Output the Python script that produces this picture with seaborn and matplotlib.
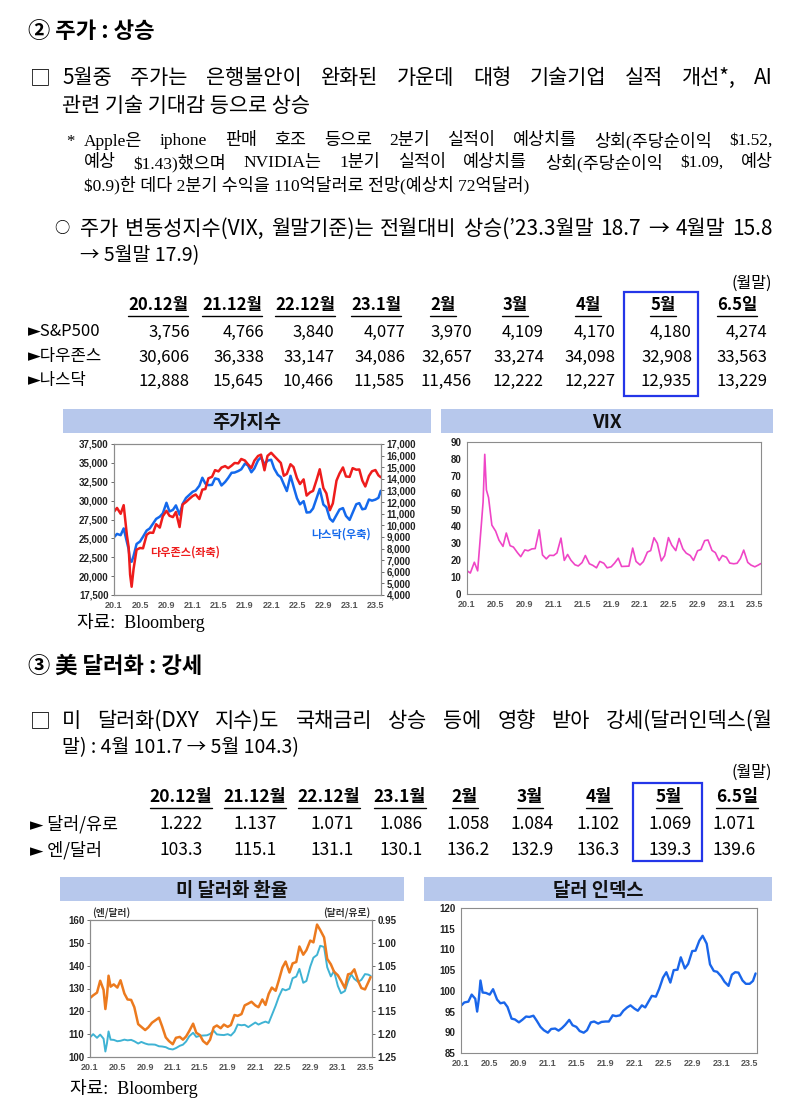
import matplotlib
matplotlib.use("Agg")
import matplotlib.pyplot as plt
import seaborn as sns
import pandas as pd
from matplotlib.patches import Rectangle

# ---------------- DATA ----------------
DATES = [
    "2020-01-01", "2020-01-15", "2020-02-01", "2020-02-15",
    "2020-03-01", "2020-03-09", "2020-03-16", "2020-03-23",
    "2020-04-01", "2020-04-15", "2020-05-01", "2020-05-15", "2020-06-01", "2020-06-15",
    "2020-07-01", "2020-07-15", "2020-08-01", "2020-08-15", "2020-09-01", "2020-09-15",
    "2020-10-01", "2020-10-15", "2020-11-01", "2020-11-15", "2020-12-01", "2020-12-15",
    "2021-01-01", "2021-01-15", "2021-02-01", "2021-02-15", "2021-03-01", "2021-03-15",
    "2021-04-01", "2021-04-15", "2021-05-01", "2021-05-15", "2021-06-01", "2021-06-15",
    "2021-07-01", "2021-07-15", "2021-08-01", "2021-08-15", "2021-09-01", "2021-09-15",
    "2021-10-01", "2021-10-15", "2021-11-01", "2021-11-15", "2021-12-01", "2021-12-15",
    "2022-01-01", "2022-01-15", "2022-02-01", "2022-02-15", "2022-03-01", "2022-03-15",
    "2022-04-01", "2022-04-15", "2022-05-01", "2022-05-15", "2022-06-01", "2022-06-15",
    "2022-07-01", "2022-07-15", "2022-08-01", "2022-08-15", "2022-09-01", "2022-09-15",
    "2022-10-01", "2022-10-15", "2022-11-01", "2022-11-15", "2022-12-01", "2022-12-15",
    "2023-01-01", "2023-01-15", "2023-02-01", "2023-02-15", "2023-03-01", "2023-03-15",
    "2023-04-01", "2023-04-15", "2023-05-01", "2023-05-15", "2023-05-26",
]

DOW = [
    28538, 29030, 28256, 29398, 25409, 23851, 20189, 18592,
    20943, 23504, 23724, 23685, 25475, 25763, 25734, 26870, 26428, 27931,
    28645, 27995, 27817, 28494, 26501, 29479, 29823, 30199,
    30606, 30814, 30212, 31458, 31535, 32953, 33153, 34036, 33874, 34382, 34575, 34299,
    34633, 34987, 34935, 35515, 35312, 34814, 34326, 35295, 35913, 36087, 34022, 35927,
    36338, 35912, 35405, 34989, 33294, 33544, 34818, 34451, 32977, 32197, 32813, 30668,
    31097, 31288, 32798, 34152, 31656, 30962, 28726, 29635, 32653, 33593, 34395, 33202,
    33147, 34303, 34092, 34128, 32661, 31875, 33274, 33886, 34051, 33348, 33093,
]

NASDAQ = [
    8973, 9259, 9151, 9732, 8567, 7950, 6905, 6861,
    7360, 8393, 8605, 9015, 9552, 9727, 10155, 10550, 10745, 11019,
    11940, 11190, 11326, 11714, 10912, 11830, 12355, 12596,
    12888, 12999, 13403, 14095, 13588, 13460, 13480, 14038, 13962, 13430, 13736, 14073,
    14522, 14543, 14673, 14822, 15310, 15161, 14567, 14897, 15595, 15854, 15254, 15566,
    15645, 14893, 14346, 14139, 13532, 12949, 14262, 13351, 12335, 11805, 12081, 11100,
    11128, 11452, 12369, 13128, 11785, 11552, 10575, 10321, 10890, 11358, 11482, 10810,
    10466, 11079, 11816, 11910, 11379, 11434, 12222, 12123, 12213, 12365, 12975,
]

VIX = [
    13.8, 12.4, 18.8, 13.7, 40.1, 54.5, 82.7, 61.6,
    57.1, 40.8, 37.2, 31.9, 28.2, 36.1, 28.6, 27.8, 24.5, 22.1,
    26.1, 25.6, 26.7, 26.9, 38.0, 23.1, 20.8, 22.9,
    22.8, 24.3, 33.1, 19.9, 23.4, 20.0, 17.3, 16.6, 18.6, 22.8, 17.9, 17.0,
    15.5, 19.3, 18.2, 15.5, 16.1, 18.2, 21.2, 16.3, 16.4, 16.5, 27.2, 19.3,
    17.2, 19.2, 24.8, 25.7, 33.3, 30.0, 19.6, 22.7, 33.4, 28.9, 25.7, 32.9,
    26.7, 24.2, 22.8, 19.9, 25.6, 26.3, 31.6, 32.0, 25.8, 24.5, 19.8, 22.8,
    21.7, 18.3, 17.9, 18.2, 21.0, 26.0, 18.7, 17.1, 16.1, 17.1, 18.0,
]

JPY = [
    108.6, 110.0, 108.4, 109.8, 108.0, 102.4, 106.0, 111.2,
    107.6, 107.5, 106.9, 107.1, 107.6, 107.3, 107.5, 106.9, 105.9, 106.6,
    105.9, 105.5, 105.5, 105.4, 104.7, 104.6, 104.3, 103.6,
    103.3, 103.9, 104.9, 105.4, 106.8, 109.1, 110.6, 108.8, 109.3, 109.4, 109.5, 110.1,
    111.5, 109.9, 109.7, 109.6, 110.0, 109.4, 111.1, 114.2, 113.9, 114.1, 113.1, 114.0,
    115.1, 114.2, 115.0, 115.5, 114.9, 118.3, 122.5, 126.4, 129.8, 129.2, 129.9, 134.5,
    135.2, 138.6, 132.5, 133.3, 139.6, 143.5, 144.7, 148.7, 148.2, 139.3, 135.3, 137.7,
    131.1, 127.9, 128.9, 133.1, 136.2, 134.2, 132.9, 133.8, 136.3, 136.1, 135.5,
]

EUR = [
    1.121, 1.115, 1.109, 1.083, 1.103, 1.145, 1.117, 1.072,
    1.096, 1.091, 1.098, 1.082, 1.111, 1.124, 1.125, 1.141, 1.178, 1.184,
    1.191, 1.185, 1.175, 1.170, 1.164, 1.183, 1.207, 1.215,
    1.222, 1.208, 1.206, 1.212, 1.205, 1.193, 1.177, 1.197, 1.202, 1.215, 1.222, 1.212,
    1.185, 1.181, 1.187, 1.179, 1.184, 1.180, 1.158, 1.160, 1.156, 1.137, 1.133, 1.129,
    1.137, 1.141, 1.124, 1.136, 1.112, 1.098, 1.105, 1.082, 1.054, 1.041, 1.065, 1.045,
    1.042, 1.008, 1.026, 1.016, 0.995, 0.999, 0.960, 0.972, 0.988, 1.035, 1.047, 1.063,
    1.071, 1.083, 1.099, 1.069, 1.067, 1.058, 1.084, 1.099, 1.102, 1.087, 1.075,
]

DXY = [
    96.4, 97.2, 97.4, 99.1, 98.1, 95.0, 98.0, 102.5,
    99.6, 99.5, 99.1, 100.4, 97.9, 97.0, 97.2, 96.1, 93.3, 93.1,
    92.4, 93.0, 93.8, 93.7, 94.0, 92.8, 91.3, 90.5,
    89.9, 90.8, 90.9, 90.4, 91.0, 91.8, 93.0, 91.7, 91.3, 90.3, 89.9, 90.5,
    92.4, 92.6, 92.1, 92.5, 92.6, 92.6, 94.1, 93.9, 94.1, 95.2, 96.0, 96.5,
    95.7, 95.2, 96.5, 96.0, 97.4, 98.8, 98.6, 100.5, 103.2, 104.5, 102.0, 105.0,
    105.1, 108.1, 105.4, 106.5, 109.6, 109.7, 112.1, 113.3, 111.4, 106.4, 104.8, 104.6,
    103.5, 102.2, 101.2, 103.9, 104.5, 104.4, 102.5, 101.7, 101.7, 102.4, 104.2,
]

X_TICK_LABELS = ["20.1", "20.5", "20.9", "21.1", "21.5", "21.9",
                 "22.1", "22.5", "22.9", "23.1", "23.5"]

TABLE1_HEADS = ["20.12월", "21.12월", "22.12월", "23.1월", "2월", "3월", "4월", "5월", "6.5일"]
TABLE1_LABELS = ["►S&P500", "►다우존스", "►나스닥"]
SP500_ROW = [3756, 4766, 3840, 4077, 3970, 4109, 4170, 4180, 4274]
DOW_ROW = [30606, 36338, 33147, 34086, 32657, 33274, 34098, 32908, 33563]
NASDAQ_ROW = [12888, 15645, 10466, 11585, 11456, 12222, 12227, 12935, 13229]

TABLE2_HEADS = ["20.12월", "21.12월", "22.12월", "23.1월", "2월", "3월", "4월", "5월", "6.5일"]
TABLE2_LABELS = ["► 달러/유로", "► 엔/달러"]
USDEUR_ROW = [1.222, 1.137, 1.071, 1.086, 1.058, 1.084, 1.102, 1.069, 1.071]
JPYUSD_ROW = [103.3, 115.1, 131.1, 130.1, 136.2, 132.9, 136.3, 139.3, 139.6]

# ---------------- SETUP ----------------
sns.set_style("white")
KR = ['Noto Sans CJK KR', 'DejaVu Sans']
SERIF = ['Liberation Serif', 'Noto Sans CJK KR', 'DejaVu Sans']
TICKF = ['Liberation Sans', 'Noto Sans CJK KR', 'DejaVu Sans']
plt.rcParams['font.family'] = KR
plt.rcParams['axes.unicode_minus'] = False

W, H = 800, 1118
fig = plt.figure(figsize=(W / 100, H / 100), dpi=100)
fig.patch.set_facecolor('white')
bg = fig.add_axes([0, 0, 1, 1], zorder=0)
bg.set_xlim(0, W)
bg.set_ylim(H, 0)
bg.axis('off')
renderer = fig.canvas.get_renderer()

BODY = 15


def txt(x, y, s, size=BODY, ha='left', weight='normal', color='black', family=KR, **kw):
    return bg.text(x, y, s, fontsize=size, ha=ha, va='center', fontweight=weight,
                   color=color, family=family, **kw)


def width(t):
    return t.get_window_extent(renderer).width


def justify(y, x0, x1, s, size=BODY, family=KR):
    words = s.split(' ')
    objs = [txt(0, y, w, size=size, family=family) for w in words]
    ws = [width(o) for o in objs]
    gap = (x1 - x0 - sum(ws)) / (len(words) - 1)
    x = x0
    for o, w in zip(objs, ws):
        o.set_x(x)
        x += w + gap


def table(y_head, rows_y, heads, head_cx, labels, rows, right_x, size, box, label_x=28):
    for h, cx in zip(heads, head_cx):
        t = txt(cx, y_head, h, size=size, ha='center', weight='bold')
        w = width(t)
        bg.plot([cx - w / 2, cx + w / 2], [y_head + 11, y_head + 11], color='black', lw=1.0)
    for lab, vals, y in zip(labels, rows, rows_y):
        txt(label_x, y, lab, size=size)
        for v, rx in zip(vals, right_x):
            txt(rx, y, v, size=size, ha='right')
    bg.add_patch(Rectangle((box[0], box[1]), box[2] - box[0], box[3] - box[1],
                           fill=False, ec='#2436e8', lw=1.6, zorder=3))


def header_bar(x0, x1, y0, y1, title):
    bg.add_patch(Rectangle((x0, y0), x1 - x0, y1 - y0, fc='#b7c8ec', ec='none'))
    txt((x0 + x1) / 2, (y0 + y1) / 2 + 1, title, size=13.5, ha='center', weight='bold',
        color='#111111')


def add_ax(l, t, r, b):
    return fig.add_axes([l / W, 1 - b / H, (r - l) / W, (b - t) / H], zorder=2)


tick_dates = pd.to_datetime(["20" + lab.split('.')[0] + "-" + lab.split('.')[1].zfill(2) + "-01"
                             for lab in X_TICK_LABELS])
dates = pd.to_datetime(DATES)
TICK_SIZE = 7


def style_ax(ax, x_end):
    for s in ax.spines.values():
        s.set_color('#8c8c8c')
        s.set_linewidth(0.8)
    ax.set_xlim(pd.Timestamp("2020-01-01"), pd.Timestamp(x_end))
    ax.set_xticks(tick_dates, X_TICK_LABELS, fontsize=TICK_SIZE - 0.5, fontweight='bold',
                  family=TICKF, color='#222222')
    ax.tick_params(axis='both', length=2, width=0.6, pad=2, colors='#555555')
    ax.set_xlabel('')
    ax.set_ylabel('')
    ax.set_facecolor('white')


def set_y(ax, ticks, labels):
    ax.set_yticks(ticks, labels, fontsize=TICK_SIZE, fontweight='bold', family=TICKF,
                  color='#222222')


# ---------------- SECTION 1 TEXT ----------------
txt(28, 32, "② 주가 : 상승", size=16, weight='bold')
txt(30, 78, "□", size=15)
justify(78, 62, 773, "5월중 주가는 은행불안이 완화된 가운데 대형 기술기업 실적 개선*, AI")
txt(62, 106, "관련 기술 기대감 등으로 상승")
txt(66, 142, "*", size=12, family=SERIF)
justify(141, 84, 773, "Apple은 iphone 판매 호조 등으로 2분기 실적이 예상치를 상회(주당순이익 $1.52,",
        size=12.5, family=SERIF)
justify(163, 84, 773, "예상 $1.43)했으며 NVIDIA는 1분기 실적이 예상치를 상회(주당순이익 $1.09, 예상",
        size=12.5, family=SERIF)
txt(84, 185, "$0.9)한 데다 2분기 수익을 110억달러로 전망(예상치 72억달러)", size=12.5, family=SERIF)
txt(54, 229, "○", size=11)
justify(229, 80, 773, "주가 변동성지수(VIX, 월말기준)는 전월대비 상승(’23.3월말 18.7 → 4월말 15.8")
txt(80, 256, "→ 5월말 17.9)", size=14)
txt(772, 283, "(월말)", size=11.5, ha='right')

head1_cx = [158, 232, 305, 376, 443, 515, 588, 663, 737]
right1_x = [190, 264, 334, 405, 472, 544, 615, 692, 767]
rows1 = [[f"{v:,}" for v in SP500_ROW], [f"{v:,}" for v in DOW_ROW], [f"{v:,}" for v in NASDAQ_ROW]]
table(305, [332, 357, 381], TABLE1_HEADS, head1_cx, TABLE1_LABELS, rows1, right1_x,
      12, (624, 292, 698, 396), label_x=28)

# ---------------- CHART 1: stock indices ----------------
header_bar(63, 431, 409, 433, "주가지수")
ax1 = add_ax(114, 444, 381, 595)
ax1b = ax1.twinx()
sns.lineplot(x=dates, y=NASDAQ, ax=ax1b, color='#1469ec', lw=1.8, legend=False)
sns.lineplot(x=dates, y=DOW, ax=ax1, color='#ee1c1c', lw=1.8, legend=False)
ax1.set_zorder(ax1b.get_zorder() + 1)
ax1.patch.set_visible(False)
ax1b.patch.set_facecolor('white')
style_ax(ax1, "2023-05-27")
style_ax(ax1b, "2023-05-27")
ax1.set_ylim(17500, 37500)
set_y(ax1, list(range(17500, 37501, 2500)), [f"{v:,}" for v in range(17500, 37501, 2500)])
ax1b.set_ylim(4000, 17000)
set_y(ax1b, list(range(4000, 17001, 1000)), [f"{v:,}" for v in range(4000, 17001, 1000)])
txt(150, 552, "다우존스(좌축)", size=8, weight='bold', color='#ee1c1c')
txt(311, 534, "나스닥(우축)", size=8, weight='bold', color='#1469ec')
txt(77, 622, "자료:  Bloomberg", size=13, family=SERIF)

# ---------------- CHART 2: VIX ----------------
header_bar(441, 773, 409, 433, "VIX")
ax2 = add_ax(467, 442, 761, 594)
sns.lineplot(x=dates, y=VIX, ax=ax2, color='#ef45c6', lw=1.2, legend=False)
style_ax(ax2, "2023-05-27")
ax2.set_ylim(0, 90)
set_y(ax2, list(range(0, 91, 10)), [str(v) for v in range(0, 91, 10)])

# ---------------- SECTION 2 TEXT ----------------
txt(28, 666, "③ 美 달러화 : 강세", size=16, weight='bold')
txt(30, 721, "□", size=15)
justify(721, 62, 773, "미 달러화(DXY 지수)도 국채금리 상승 등에 영향 받아 강세(달러인덱스(월")
txt(62, 748, "말) : 4월 101.7 → 5월 104.3)", size=14)
txt(772, 772, "(월말)", size=11.5, ha='right')

head2_cx = [181, 255, 329, 400, 465, 530, 599, 669, 737]
right2_x = [203, 277, 354, 423, 490, 554, 620, 692, 756]
rows2 = [[f"{v:.3f}" for v in USDEUR_ROW], [f"{v:.1f}" for v in JPYUSD_ROW]]
table(797, [824, 850], TABLE2_HEADS, head2_cx, TABLE2_LABELS, rows2, right2_x,
      12.5, (633, 783, 702, 861), label_x=30)

# ---------------- CHART 3: FX ----------------
header_bar(60, 404, 877, 901, "미 달러화 환율")
ax3 = add_ax(90, 920, 372, 1057)
ax3b = ax3.twinx()
sns.lineplot(x=dates, y=JPY, ax=ax3, color='#3fb3d4', lw=1.4, legend=False)
sns.lineplot(x=dates, y=EUR, ax=ax3b, color='#ec7a1e', lw=1.8, legend=False)
style_ax(ax3, "2023-06-01")
style_ax(ax3b, "2023-06-01")
ax3.set_ylim(100, 160)
set_y(ax3, list(range(100, 161, 10)), [str(v) for v in range(100, 161, 10)])
eur_ticks = [0.95, 1.00, 1.05, 1.10, 1.15, 1.20, 1.25]
ax3b.set_ylim(1.25, 0.95)
set_y(ax3b, eur_ticks, [f"{v:.2f}" for v in eur_ticks])
txt(92, 913, "(엔/달러)", size=7, weight='bold', color='#333333')
txt(370, 913, "(달러/유로)", size=7, weight='bold', color='#333333', ha='right')
txt(213, 954, "달러/유로(우축)", size=8.5, weight='bold', color='#ec7a1e')
txt(282, 1012, "엔/달러(좌축)", size=8.5, weight='bold', color='#3fb3d4')
txt(70, 1088, "자료:  Bloomberg", size=13, family=SERIF)

# ---------------- CHART 4: DXY ----------------
header_bar(424, 772, 877, 901, "달러 인덱스")
ax4 = add_ax(461, 908, 757, 1053)
sns.lineplot(x=dates, y=DXY, ax=ax4, color='#1a66ea', lw=1.7, legend=False)
style_ax(ax4, "2023-06-01")
ax4.set_ylim(85, 120)
set_y(ax4, list(range(85, 121, 5)), [str(v) for v in range(85, 121, 5)])

fig.savefig("out.png", dpi=100, facecolor='white')
